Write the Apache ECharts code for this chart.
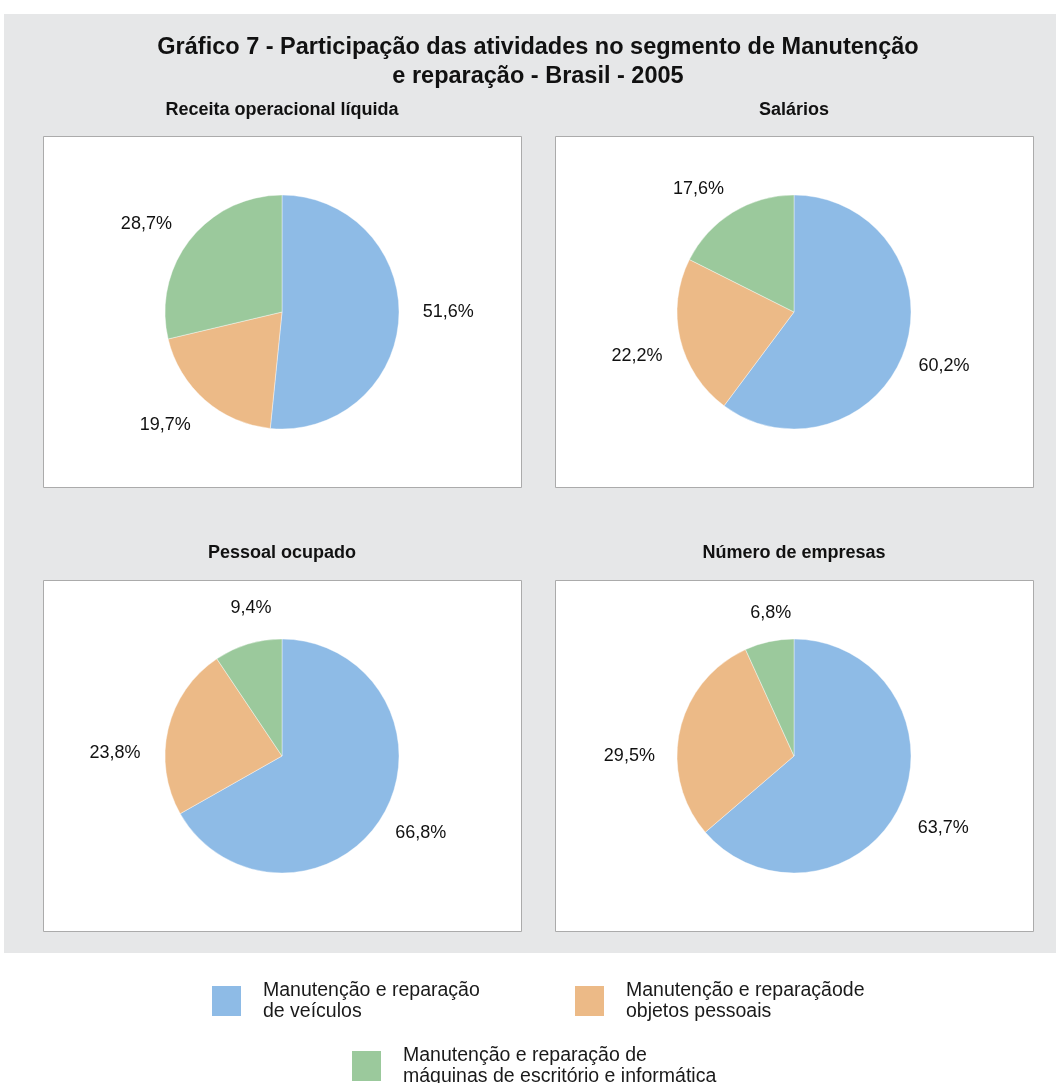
<!DOCTYPE html>
<html>
<head>
<meta charset="utf-8">
<script src="https://cdn.jsdelivr.net/npm/echarts@6/dist/echarts.min.js"></script>
<style>
html,body{margin:0;padding:0;background:#fff;}
#chart{width:1056px;height:1083px;}
</style>
</head>
<body>
<div id="chart"></div>
<script>
// ---- data ----
const categories = [
  'Manutenção e reparação\nde veículos',
  'Manutenção e reparaçãode\nobjetos pessoais',
  'Manutenção e reparação de\nmáquinas de escritório e informática'
];
const receita  = [51.6, 19.7, 28.7];
const salarios = [60.2, 22.2, 17.6];
const pessoal  = [66.8, 23.8, 9.4];
const empresas = [63.7, 29.5, 6.8];
const panelTitles = ['Receita operacional líquida', 'Salários', 'Pessoal ocupado', 'Número de empresas'];
const mainTitle = 'Gráfico 7 - Participação das atividades no segmento de Manutenção\ne reparação - Brasil - 2005';

// ---- layout / style ----
const colors = ['#8EBBE6', '#ECBA87', '#9BC99C'];
const FONT = '"Liberation Sans", Arial, Helvetica, sans-serif';
const R = 117, GAP = 24;
const panels = [
  {cx: 282, cy: 312, x: 43, y: 136, vals: receita},
  {cx: 794, cy: 312, x: 555, y: 136, vals: salarios},
  {cx: 282, cy: 756, x: 43, y: 580, vals: pessoal},
  {cx: 794, cy: 756, x: 555, y: 580, vals: empresas}
];
// small per-label placement nudges (label layout only)
const labelNudge = [
  [[0, -8], [-7, 0], [-5, 5]],
  [[-8, 7], [5, 9], [-8, 5]],
  [[-5, 1], [-5, 32], [16, -4]],
  [[-2, 9], [-2, 32], [11, 4]]
];
const PW = 478, PH = 351;

function makeLayout(p, pi) {
  return function (params) {
    const vals = p.vals;
    const total = vals.reduce((a, b) => a + b, 0);
    let before = 0;
    for (let k = 0; k < params.dataIndex; k++) before += vals[k];
    const mid = (before + vals[params.dataIndex] / 2) / total * Math.PI * 2;
    const dx = Math.sin(mid), dy = -Math.cos(mid);
    const w = params.labelRect.width, h = params.labelRect.height;
    const n = labelNudge[pi][params.dataIndex];
    return {
      x: p.cx + dx * (R + GAP) + dx * w / 2 + n[0],
      y: p.cy + dy * (R + GAP) + dy * h / 2 + n[1],
      align: 'center',
      verticalAlign: 'middle'
    };
  };
}

const graphics = [
  {type: 'rect', shape: {x: 4, y: 14, width: 1052, height: 939}, style: {fill: '#E6E7E8'}, z: -10}
];
panels.forEach(p => {
  graphics.push({type: 'rect', shape: {x: p.x + 0.5, y: p.y + 0.5, width: PW, height: PH},
    style: {fill: '#fff', stroke: '#ABABAB', lineWidth: 1}, z: -5});
});

const titles = [{
  text: mainTitle, left: 538, top: 33, textAlign: 'center', padding: 0,
  textStyle: {fontFamily: FONT, fontSize: 23.5, fontWeight: 'bold', color: '#111', lineHeight: 29}
}];
panelTitles.forEach((t, i) => {
  titles.push({
    text: t, left: panels[i].cx, top: i < 2 ? 101 : 544, textAlign: 'center', padding: 0,
    textStyle: {fontFamily: FONT, fontSize: 18, fontWeight: 'bold', color: '#111'}
  });
});

const series = panels.map((p, pi) => ({
  type: 'pie',
  center: [p.cx, p.cy],
  radius: R,
  startAngle: 90,
  clockwise: true,
  silent: true,
  animation: false,
  data: categories.map((c, i) => ({name: c, value: p.vals[i]})),
  itemStyle: {borderColor: '#fff', borderWidth: 0.4},
  label: {
    show: true, position: 'outside',
    formatter: (d) => d.value.toFixed(1).replace('.', ',') + '%',
    fontFamily: FONT, fontSize: 18, color: '#111'
  },
  labelLine: {show: false},
  labelLayout: makeLayout(p, pi)
}));

const legendBase = {
  orient: 'horizontal', icon: 'rect', itemWidth: 31, itemHeight: 32, padding: 0,
  selectedMode: false,
  textStyle: {fontFamily: FONT, fontSize: 19.5, color: '#1a1a1a', lineHeight: 21, padding: [0, 0, 0, 16]}
};
const legends = [
  Object.assign({}, legendBase, {left: 210, top: 980, data: [categories[0]]}),
  Object.assign({}, legendBase, {left: 573, top: 980, data: [categories[1]]}),
  Object.assign({}, legendBase, {left: 350, top: 1045, data: [categories[2]]})
];

const chart = echarts.init(document.getElementById('chart'), null, {renderer: 'canvas'});
chart.setOption({
  backgroundColor: '#fff',
  color: colors,
  animation: false,
  graphic: graphics,
  title: titles,
  legend: legends,
  series: series
});
</script>
</body>
</html>
